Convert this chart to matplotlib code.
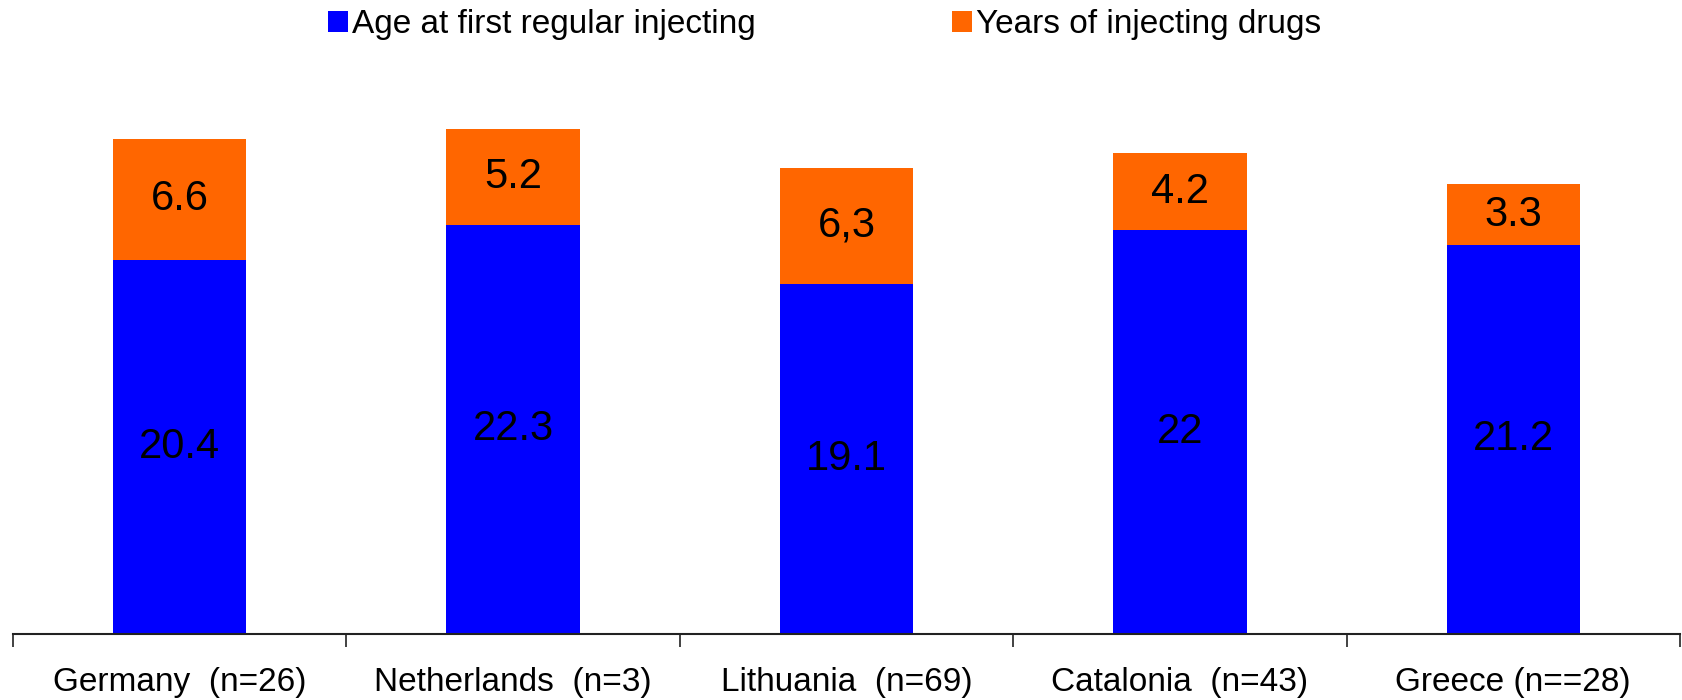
import matplotlib
matplotlib.use("Agg")
import matplotlib.pyplot as plt
import numpy as np

plt.rcParams['font.family'] = ['Liberation Sans', 'DejaVu Sans']

countries = ['Germany  (n=26)', 'Netherlands  (n=3)', 'Lithuania  (n=69)',
             'Catalonia  (n=43)', 'Greece (n==28)']
age_first = [20.4, 22.3, 19.1, 22.0, 21.2]
years_inj = [6.6, 5.2, 6.3, 4.2, 3.3]
age_labels = ['20.4', '22.3', '19.1', '22', '21.2']
years_labels = ['6.6', '5.2', '6,3', '4.2', '3.3']

fig = plt.figure(figsize=(16.83, 7.0), dpi=100)
ax = fig.add_axes([0.0077, 0.0943, 0.9905, 0.7864])

x = np.arange(len(countries))
b1 = ax.bar(x, age_first, 0.4, color='#0000FF', label='Age at first regular injecting')
b2 = ax.bar(x, years_inj, 0.4, bottom=age_first, color='#FF6600', label='Years of injecting drugs')

ax.bar_label(b1, labels=age_labels, label_type='center', fontsize=30)
ax.bar_label(b2, labels=years_labels, label_type='center', fontsize=30)

ax.set_xlim(-0.5, 4.5)
ax.set_ylim(0, 30)
ax.set_yticks([])
for s in ['top', 'right', 'left']:
    ax.spines[s].set_visible(False)
ax.spines['bottom'].set_linewidth(1.5)
ax.spines['bottom'].set_color('#222222')

ax.set_xticks(np.arange(-0.5, 5, 1))
ax.set_xticklabels([])
ax.tick_params(axis='x', which='major', length=9, width=1.2, color='#222222', direction='out')
ax.set_xticks(x, minor=True)
ax.set_xticklabels(countries, minor=True, fontsize=24)
ax.tick_params(axis='x', which='minor', length=0, pad=24)

fig.legend(handles=[b1, b2], loc='upper center', bbox_to_anchor=(0.49, 1.03), ncol=2,
           frameon=False, fontsize=24, handlelength=0.6, handleheight=0.6,
           handletextpad=0.12, columnspacing=5.9)

fig.savefig('out.png', dpi=100)
